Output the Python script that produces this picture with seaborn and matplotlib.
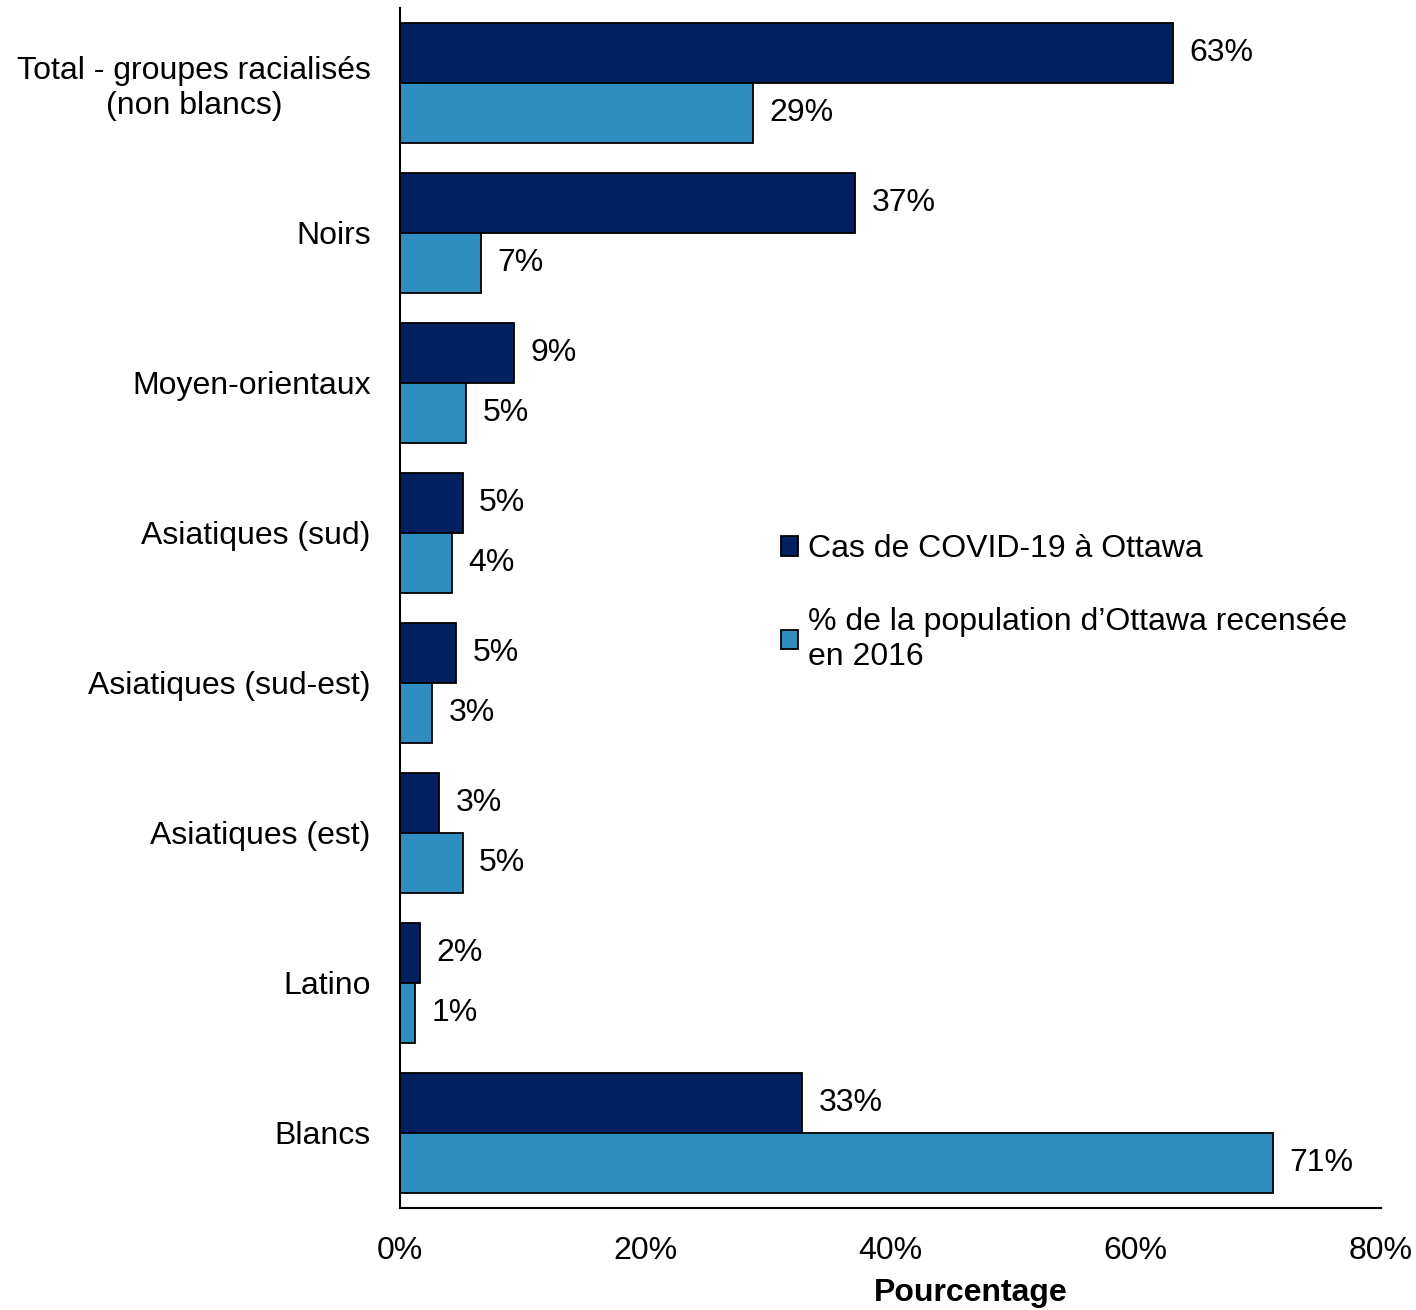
import numpy as np
import pandas as pd
import seaborn as sns
from matplotlib import pyplot as plt
from matplotlib.ticker import PercentFormatter

categories = ["Total - groupes racialisés\n(non blancs)", "Noirs", "Moyen-orientaux",
              "Asiatiques (sud)", "Asiatiques (sud-est)", "Asiatiques (est)",
              "Latino", "Blancs"]
cas_covid = [63.0, 37.1, 9.3, 5.1, 4.6, 3.2, 1.6, 32.8]
population_2016 = [28.8, 6.6, 5.4, 4.2, 2.6, 5.1, 1.2, 71.2]
cas_labels = ["63%", "37%", "9%", "5%", "5%", "3%", "2%", "33%"]
pop_labels = ["29%", "7%", "5%", "4%", "3%", "5%", "1%", "71%"]

series_names = ["Cas de COVID-19 à Ottawa",
                "% de la population d’Ottawa recensée\nen 2016"]
colors = ["#002060", "#2E8EBF"]


def main():
    df = pd.DataFrame({
        "groupe": categories * 2,
        "valeur": cas_covid + population_2016,
        "serie": [series_names[0]] * len(categories) + [series_names[1]] * len(categories),
    })

    sns.set_style("white")
    plt.rcParams["font.family"] = ["Liberation Sans", "DejaVu Sans"]
    plt.rcParams["text.color"] = "black"
    plt.rcParams["axes.labelcolor"] = "black"
    plt.rcParams["xtick.color"] = "black"
    plt.rcParams["ytick.color"] = "black"
    fs = 23

    fig = plt.figure(figsize=(14.16, 13.1), dpi=100)
    ax = fig.add_axes([0.2825, 0.078, 0.6928, 0.916])

    sns.barplot(data=df, y="groupe", x="valeur", hue="serie", order=categories,
                hue_order=series_names, palette=colors, orient="h", width=0.8,
                edgecolor="black", linewidth=1.3, saturation=1, ax=ax)

    for cont, labs in zip(ax.containers, [cas_labels, pop_labels]):
        ax.bar_label(cont, labels=labs, padding=12, fontsize=fs)

    ax.set_xlim(0, 80)
    ax.set_ylim(7.5, -0.5)
    ax.xaxis.set_major_formatter(PercentFormatter(decimals=0))
    ax.set_xticks([0, 20, 40, 60, 80])
    ax.tick_params(axis="both", length=0, labelsize=fs)
    ax.tick_params(axis="x", pad=20)
    ax.tick_params(axis="y", pad=21)
    for t in ax.get_yticklabels():
        t.set_multialignment("center")
    ax.set_ylabel("")
    ax.set_xlabel("Pourcentage", fontsize=fs, fontweight="bold")
    ax.xaxis.set_label_coords(0.582, -0.071)
    ax.xaxis.label.set_va("center")

    for s in ["top", "right"]:
        ax.spines[s].set_visible(False)
    for s in ["left", "bottom"]:
        ax.spines[s].set_color("black")
        ax.spines[s].set_linewidth(1.5)

    ax.legend(loc="upper left", bbox_to_anchor=(0.375, 0.572), frameon=False,
              fontsize=fs, handlelength=0.55, handleheight=0.55, handletextpad=0.3,
              labelspacing=1.35, borderaxespad=0)

    fig.savefig("out.png", dpi=100)


if __name__ == "__main__":
    main()
